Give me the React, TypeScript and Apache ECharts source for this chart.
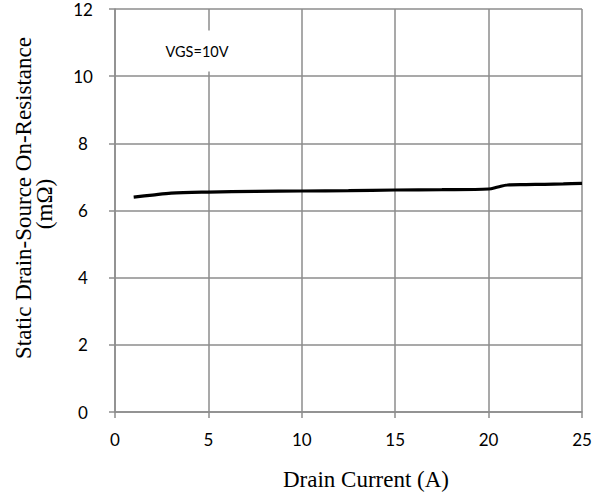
import React, { useEffect, useRef } from "react";
import * as echarts from "echarts";

const currentA = [1, 2, 3, 5, 7.5, 10, 12.5, 15, 17.5, 20, 20.5, 21, 22, 23, 24, 25];
const resistance = [6.40, 6.46, 6.52, 6.55, 6.57, 6.58, 6.59, 6.61, 6.62, 6.64, 6.70, 6.76, 6.77, 6.78, 6.79, 6.81];
const annotation = "VGS=10V";
const xTitle = "Drain Current (A)";
const yTitleLines = ["Static Drain-Source On-Resistance", "(mΩ)"];

const GRID = "#8c8c8c";

export default function App() {
  const ref = useRef<HTMLDivElement>(null);
  useEffect(() => {
    if (!ref.current) return;
    const chart = echarts.init(ref.current, null, { renderer: "svg" });
    chart.setOption({
      animation: false,
      backgroundColor: "#ffffff",
      grid: { left: 115, right: 21, top: 9, bottom: 83, containLabel: false },
      xAxis: {
        type: "value",
        min: 0,
        max: 25,
        interval: 5,
        axisLine: { show: true, lineStyle: { color: GRID, width: 1.5 } },
        axisTick: { show: true, length: 6, lineStyle: { color: GRID, width: 1.5 } },
        splitLine: { show: true, lineStyle: { color: GRID, width: 1.5 } },
        axisLabel: { color: "#000", fontFamily: "Lato", fontSize: 17, margin: 19 },
      },
      yAxis: {
        type: "value",
        min: 0,
        max: 12,
        interval: 2,
        axisLine: { show: true, lineStyle: { color: GRID, width: 1.5 } },
        axisTick: { show: true, length: 6, lineStyle: { color: GRID, width: 1.5 } },
        splitLine: { show: true, lineStyle: { color: GRID, width: 1.5 } },
        axisLabel: { color: "#000", fontFamily: "Lato", fontSize: 17, margin: 32, align: "center" },
      },
      graphic: [
        {
          type: "text",
          x: 197,
          y: 51,
          z: 10,
          style: {
            text: annotation,
            fontFamily: "Lato",
            fontSize: 14.5,
            fill: "#000",
            align: "center",
            verticalAlign: "middle",
            backgroundColor: "#fff",
            padding: [13, 8, 13, 8],
          },
        },
        {
          type: "text",
          x: 366,
          y: 479,
          style: {
            text: xTitle,
            fontFamily: "Liberation Serif",
            fontSize: 23,
            fill: "#000",
            align: "center",
            verticalAlign: "middle",
          },
        },
        {
          type: "text",
          x: 23,
          y: 198,
          rotation: Math.PI / 2,
          style: {
            text: yTitleLines[0],
            fontFamily: "Liberation Serif",
            fontSize: 23,
            fill: "#000",
            align: "center",
            verticalAlign: "middle",
          },
        },
        {
          type: "text",
          x: 44,
          y: 204,
          rotation: Math.PI / 2,
          style: {
            text: yTitleLines[1],
            fontFamily: "Liberation Serif",
            fontSize: 23,
            fill: "#000",
            align: "center",
            verticalAlign: "middle",
          },
        },
      ],
      series: [
        {
          type: "line",
          data: currentA.map((x, i) => [x, resistance[i]]),
          showSymbol: false,
          smooth: 0.3,
          lineStyle: { color: "#000", width: 3.2 },
          z: 5,
        },
      ],
    });
    return () => chart.dispose();
  }, []);
  return <div ref={ref} style={{ width: 603, height: 495, position: "absolute", left: 0, top: 0 }} />;
}
